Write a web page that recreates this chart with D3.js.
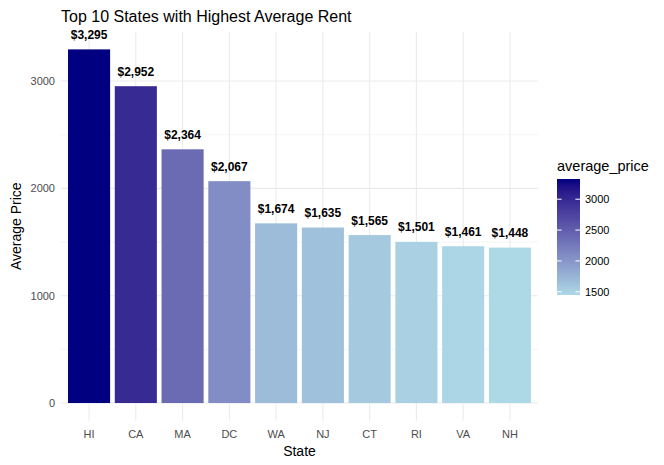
<!DOCTYPE html>
<html>
<head>
<meta charset="utf-8">
<script src="https://cdn.jsdelivr.net/npm/d3@7"></script>
<style>
  body { margin: 0; background: #fff; }
  text { font-family: "Liberation Sans", Arial, sans-serif; }
</style>
</head>
<body>
<svg id="chart"></svg>
<script>
const states = ["HI", "CA", "MA", "DC", "WA", "NJ", "CT", "RI", "VA", "NH"];
const prices = [3295, 2952, 2364, 2067, 1674, 1635, 1565, 1501, 1461, 1448];
const yTicks = [0, 1000, 2000, 3000];
const yMinor = [500, 1500, 2500];
const legendTicks = [1500, 2000, 2500, 3000];

const width = 664, height = 465;
const margin = { top: 31.7, right: 126, bottom: 44.3, left: 61 };
const innerW = width - margin.left - margin.right;
const innerH = height - margin.top - margin.bottom;

const svg = d3.select("#chart").attr("width", width).attr("height", height);

// discrete axis, 0.6 units of padding each side like ggplot
const xScale = d3.scalePoint().domain(states)
    .range([innerW * 0.6 / 10.2, innerW * 9.6 / 10.2]);
const band = innerW / 10.2;

const maxV = d3.max(prices);
const yScale = d3.scaleLinear()
    .domain([-0.05 * maxV, 1.05 * maxV])
    .range([innerH, 0]);

const color = d3.scaleLinear()
    .domain([d3.min(prices), maxV])
    .range(["lightblue", "navy"])
    .interpolate(d3.interpolateLab);

const g = svg.append("g").attr("transform", `translate(${margin.left}, ${margin.top})`);

// grid
g.selectAll(".minor").data(yMinor).join("line")
    .attr("x1", 0).attr("x2", innerW)
    .attr("y1", d => yScale(d)).attr("y2", d => yScale(d))
    .attr("stroke", "#EBEBEB").attr("stroke-width", 0.55);
g.selectAll(".major").data(yTicks).join("line")
    .attr("x1", 0).attr("x2", innerW)
    .attr("y1", d => yScale(d)).attr("y2", d => yScale(d))
    .attr("stroke", "#EBEBEB").attr("stroke-width", 1.1);
g.selectAll(".vgrid").data(states).join("line")
    .attr("x1", d => xScale(d)).attr("x2", d => xScale(d))
    .attr("y1", 0).attr("y2", innerH)
    .attr("stroke", "#EBEBEB").attr("stroke-width", 1.1);

// bars
g.selectAll(".bar").data(states).join("rect")
    .attr("x", d => xScale(d) - band * 0.45)
    .attr("width", band * 0.9)
    .attr("y", (d, i) => yScale(prices[i]))
    .attr("height", (d, i) => yScale(0) - yScale(prices[i]))
    .attr("fill", (d, i) => color(prices[i]));

// value labels
g.selectAll(".lbl").data(states).join("text")
    .attr("x", d => xScale(d))
    .attr("y", (d, i) => yScale(prices[i]) - 10.5)
    .attr("text-anchor", "middle")
    .attr("font-size", "12px")
    .attr("font-weight", "bold")
    .attr("fill", "#000")
    .text((d, i) => "$" + d3.format(",")(prices[i]));

// axes text
g.selectAll(".ytick").data(yTicks).join("text")
    .attr("x", -6).attr("y", d => yScale(d)).attr("dy", "0.35em")
    .attr("text-anchor", "end").attr("font-size", "11px").attr("fill", "#4D4D4D")
    .text(d => d);
g.selectAll(".xtick").data(states).join("text")
    .attr("x", d => xScale(d)).attr("y", innerH + 17)
    .attr("text-anchor", "middle").attr("font-size", "11px").attr("fill", "#4D4D4D")
    .text(d => d);

svg.append("text")
    .attr("x", margin.left + innerW / 2).attr("y", 456)
    .attr("text-anchor", "middle").attr("font-size", "14px").attr("fill", "#000")
    .text("State");
svg.append("text")
    .attr("transform", `translate(21, ${margin.top + innerH / 2}) rotate(-90)`)
    .attr("text-anchor", "middle").attr("font-size", "14px").attr("fill", "#000")
    .text("Average Price");

svg.append("text")
    .attr("x", 61).attr("y", 22)
    .attr("font-size", "16px").attr("fill", "#000")
    .text("Top 10 States with Highest Average Rent");

// legend colourbar
const lx = 557, lw = 23, ltop = 179, lbot = 295;
const lScale = d3.scaleLinear().domain(color.domain()).range([lbot, 181]);
const defs = svg.append("defs");
const grad = defs.append("linearGradient").attr("id", "cbar")
    .attr("x1", 0).attr("x2", 0).attr("y1", 1).attr("y2", 0);
d3.range(0, 1.0001, 0.05).forEach(t => {
    grad.append("stop").attr("offset", t)
        .attr("stop-color", color(color.domain()[0] + t * (color.domain()[1] - color.domain()[0])));
});
svg.append("rect").attr("x", lx).attr("y", ltop).attr("width", lw).attr("height", lbot - ltop)
    .attr("fill", "url(#cbar)");
legendTicks.forEach(v => {
    const y = lScale(v);
    svg.append("line").attr("x1", lx).attr("x2", lx + 4.6).attr("y1", y).attr("y2", y)
        .attr("stroke", "#fff").attr("stroke-width", 1);
    svg.append("line").attr("x1", lx + lw - 4.6).attr("x2", lx + lw).attr("y1", y).attr("y2", y)
        .attr("stroke", "#fff").attr("stroke-width", 1);
    svg.append("text").attr("x", lx + lw + 5).attr("y", y).attr("dy", "0.35em")
        .attr("font-size", "11px").attr("fill", "#000").text(v);
});
svg.append("text").attr("x", lx).attr("y", 171)
    .attr("font-size", "14.5px").attr("fill", "#000").text("average_price");
</script>
</body>
</html>
